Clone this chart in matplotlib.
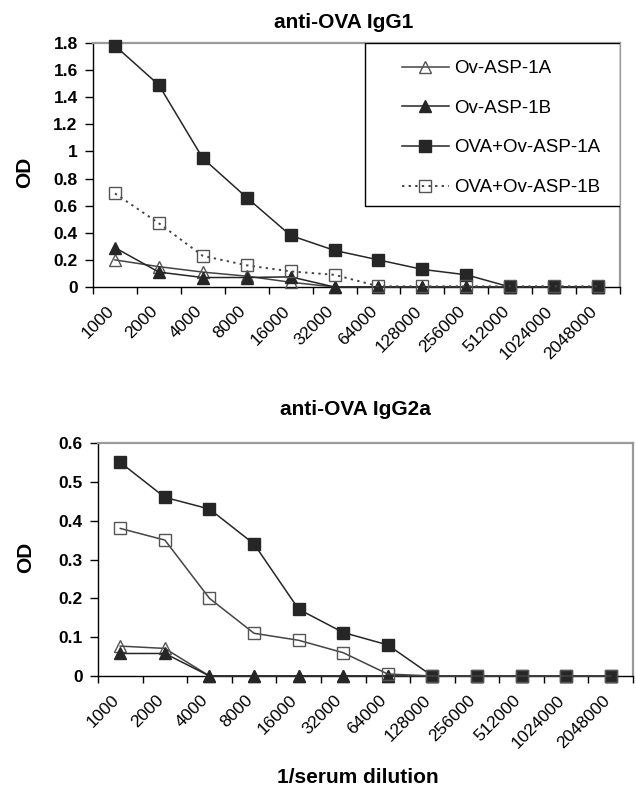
import numpy as np
import matplotlib
matplotlib.use("Agg")
import matplotlib.pyplot as plt
from matplotlib.patches import Rectangle

plt.rcParams['font.family'] = ['Liberation Sans', 'DejaVu Sans']

# ---------------- data ----------------
categories = ["1000", "2000", "4000", "8000", "16000", "32000", "64000",
              "128000", "256000", "512000", "1024000", "2048000"]
series_names = ["Ov-ASP-1A", "Ov-ASP-1B", "OVA+Ov-ASP-1A", "OVA+Ov-ASP-1B"]

# anti-OVA IgG1
igg1_asp1a = [0.20, 0.15, 0.11, 0.08, 0.035, 0.0, 0.0, 0.0, 0.0, 0.0, 0.0, 0.0]
igg1_asp1b = [0.29, 0.11, 0.07, 0.07, 0.075, 0.0, 0.0, 0.0, 0.0, 0.0, 0.0, 0.0]
igg1_ova1a = [1.78, 1.49, 0.95, 0.66, 0.38, 0.27, 0.20, 0.13, 0.09, 0.0, 0.0, 0.0]
igg1_ova1b = [0.69, 0.47, 0.23, 0.16, 0.115, 0.09, 0.005, 0.005, 0.005, 0.005, 0.005, 0.005]

# anti-OVA IgG2a
igg2a_asp1a = [0.077, 0.071, 0.0, 0.0, 0.0, 0.0, 0.0, 0.0, 0.0, 0.0, 0.0, 0.0]
igg2a_asp1b = [0.058, 0.058, 0.0, 0.0, 0.0, 0.0, 0.0, 0.0, 0.0, 0.0, 0.0, 0.0]
igg2a_ova1a = [0.55, 0.46, 0.43, 0.34, 0.172, 0.112, 0.08, 0.0, 0.0, 0.0, 0.0, 0.0]
igg2a_ova1b = [0.38, 0.35, 0.20, 0.11, 0.092, 0.06, 0.005, 0.0, 0.0, 0.0, 0.0, 0.0]

igg1_yticks = [0, 0.2, 0.4, 0.6, 0.8, 1.0, 1.2, 1.4, 1.6, 1.8]
igg1_ylabels = ["0", "0.2", "0.4", "0.6", "0.8", "1", "1.2", "1.4", "1.6", "1.8"]
igg2a_yticks = [0, 0.1, 0.2, 0.3, 0.4, 0.5, 0.6]
igg2a_ylabels = ["0", "0.1", "0.2", "0.3", "0.4", "0.5", "0.6"]

# ---------------- styles ----------------
LINE = "#444444"
DARK = "#262626"
OPEN = "#555555"
styles = [
    dict(color=LINE, lw=1.1, ls="-", marker="^", ms=9, mfc="none", mec=OPEN, mew=1.0),
    dict(color=DARK, lw=1.1, ls="-", marker="^", ms=9, mfc=DARK, mec=DARK, mew=1.0),
    dict(color=DARK, lw=1.1, ls="-", marker="s", ms=8, mfc=DARK, mec=DARK, mew=1.0),
    dict(color=LINE, lw=1.4, ls=(0, (1.2, 2.2)), marker="s", ms=8, mfc="none", mec=OPEN, mew=1.0),
]

fig = plt.figure(figsize=(6.36, 7.90), dpi=100)
W, H = 636.0, 790.0
ax1 = fig.add_axes([93 / W, 1 - 287 / H, 527 / W, 244 / H])
ax2 = fig.add_axes([98 / W, 1 - 676 / H, 535 / W, 233 / H])

x = np.arange(len(categories))


def style_axes(ax, yticks, ylabels, ymax, title, tx, ty):
    ax.set_xlim(-0.5, len(categories) - 0.5)
    ax.set_ylim(0, ymax)
    ax.set_yticks(yticks)
    ax.set_yticklabels(ylabels, fontweight="bold", fontsize=12.5)
    ax.tick_params(axis="y", direction="out", length=6, width=1, pad=5, colors="black")
    # boundary ticks (no labels)
    ax.set_xticks(np.arange(len(categories) + 1) - 0.5)
    ax.set_xticklabels([])
    ax.tick_params(axis="x", which="major", direction="out", length=5, width=1)
    # category labels
    ax.set_xticks(x - 0.2, minor=True)
    ax.set_xticklabels(categories, minor=True, rotation=45, ha="right", va="top",
                       rotation_mode="anchor", fontsize=12.5)
    ax.tick_params(axis="x", which="minor", length=0, pad=12)
    for s in ("top", "right"):
        ax.spines[s].set_color("#9a9a9a")
        ax.spines[s].set_linewidth(1.6)
    for s in ("left", "bottom"):
        ax.spines[s].set_color("black")
        ax.spines[s].set_linewidth(1.0)
    ax.text(tx, ty, title, transform=ax.transAxes, ha="center", va="center",
            fontsize=15, fontweight="bold")


style_axes(ax1, igg1_yticks, igg1_ylabels, 1.8, "anti-OVA IgG1", 0.476, 1.086)
style_axes(ax2, igg2a_yticks, igg2a_ylabels, 0.6, "anti-OVA IgG2a", 0.482, 1.142)

ax1.text(-0.129, 0.47, "OD", transform=ax1.transAxes, rotation=90, ha="center",
         va="center", fontsize=15, fontweight="bold")
ax2.text(-0.136, 0.51, "OD", transform=ax2.transAxes, rotation=90, ha="center",
         va="center", fontsize=15, fontweight="bold")
ax2.text(0.486, -0.435, "1/serum dilution", transform=ax2.transAxes, ha="center",
         va="center", fontsize=15, fontweight="bold")

top_series = [igg1_asp1a, igg1_asp1b, igg1_ova1a, igg1_ova1b]
bot_series = [igg2a_asp1a, igg2a_asp1b, igg2a_ova1a, igg2a_ova1b]

handles = []
for name, vals, st in zip(series_names, top_series, styles):
    h, = ax1.plot(x, vals, label=name, clip_on=False, zorder=3, **st)
    handles.append(h)

for name, vals, st in zip(series_names, bot_series, styles):
    st2 = dict(st)
    st2["ls"] = "-"
    st2["lw"] = 1.1
    ax2.plot(x, vals, clip_on=False, zorder=3, **st2)

# legend box
ax1.add_patch(Rectangle((0.516, 0.332), 0.484, 0.668, transform=ax1.transAxes,
                        facecolor="white", edgecolor="black", lw=1.0, zorder=4))
leg = ax1.legend(handles=handles, loc="upper left", bbox_to_anchor=(0.586, 0.93),
                 frameon=False, fontsize=13.5, borderpad=0, borderaxespad=0,
                 handlelength=2.5, handletextpad=0.3, labelspacing=1.2)
leg.set_zorder(5)

fig.savefig("out.png", dpi=100)
